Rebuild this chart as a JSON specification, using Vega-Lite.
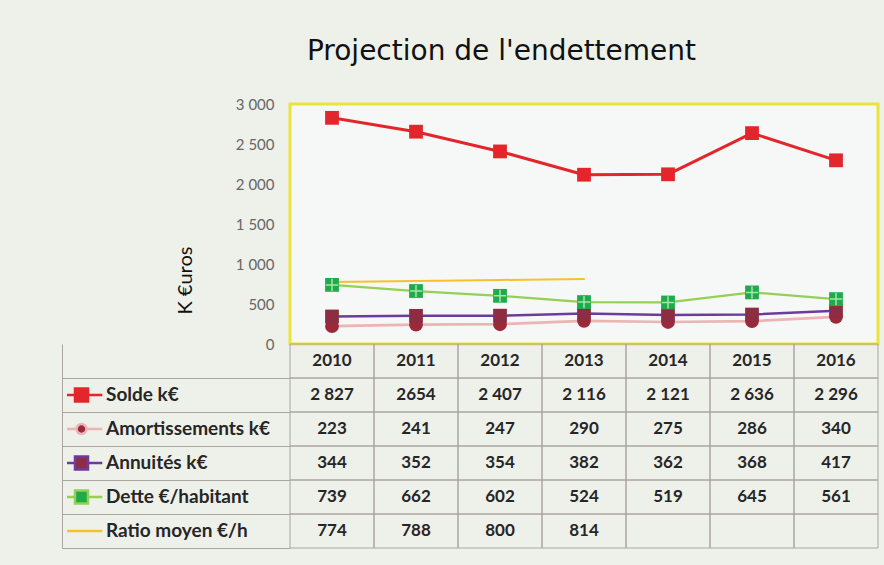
{
  "$schema": "https://vega.github.io/schema/vega-lite/v6.json",
  "background": "#eef0ea",
  "padding": {"left": 61, "top": 37, "right": 5, "bottom": 20},
  "title": {"text": "Projection de l'endettement", "font": "DejaVu Sans", "fontSize": 28, "fontWeight": "normal", "color": "#111111", "anchor": "middle", "dx": 31, "offset": 30},
  "config": {"font": "Lato", "view": {"stroke": null}},
  "spacing": 0,
  "bounds": "flush",
  "resolve": {"scale": {"fill": "independent", "stroke": "independent", "shape": "independent", "strokeWidth": "independent"}, "legend": {"fill": "independent", "stroke": "independent", "shape": "independent"}},
  "datasets": {
    "rows": [
      {"year": 2010, "series": "Solde k€", "value": 2827, "txt": "2 827"},
      {"year": 2011, "series": "Solde k€", "value": 2654, "txt": "2654"},
      {"year": 2012, "series": "Solde k€", "value": 2407, "txt": "2 407"},
      {"year": 2013, "series": "Solde k€", "value": 2116, "txt": "2 116"},
      {"year": 2014, "series": "Solde k€", "value": 2121, "txt": "2 121"},
      {"year": 2015, "series": "Solde k€", "value": 2636, "txt": "2 636"},
      {"year": 2016, "series": "Solde k€", "value": 2296, "txt": "2 296"},
      {"year": 2010, "series": "Amortissements k€", "value": 223, "txt": "223"},
      {"year": 2011, "series": "Amortissements k€", "value": 241, "txt": "241"},
      {"year": 2012, "series": "Amortissements k€", "value": 247, "txt": "247"},
      {"year": 2013, "series": "Amortissements k€", "value": 290, "txt": "290"},
      {"year": 2014, "series": "Amortissements k€", "value": 275, "txt": "275"},
      {"year": 2015, "series": "Amortissements k€", "value": 286, "txt": "286"},
      {"year": 2016, "series": "Amortissements k€", "value": 340, "txt": "340"},
      {"year": 2010, "series": "Annuités k€", "value": 344, "txt": "344"},
      {"year": 2011, "series": "Annuités k€", "value": 352, "txt": "352"},
      {"year": 2012, "series": "Annuités k€", "value": 354, "txt": "354"},
      {"year": 2013, "series": "Annuités k€", "value": 382, "txt": "382"},
      {"year": 2014, "series": "Annuités k€", "value": 362, "txt": "362"},
      {"year": 2015, "series": "Annuités k€", "value": 368, "txt": "368"},
      {"year": 2016, "series": "Annuités k€", "value": 417, "txt": "417"},
      {"year": 2010, "series": "Dette €/habitant", "value": 739, "txt": "739"},
      {"year": 2011, "series": "Dette €/habitant", "value": 662, "txt": "662"},
      {"year": 2012, "series": "Dette €/habitant", "value": 602, "txt": "602"},
      {"year": 2013, "series": "Dette €/habitant", "value": 524, "txt": "524"},
      {"year": 2014, "series": "Dette €/habitant", "value": 519, "txt": "519"},
      {"year": 2015, "series": "Dette €/habitant", "value": 645, "txt": "645"},
      {"year": 2016, "series": "Dette €/habitant", "value": 561, "txt": "561"},
      {"year": 2010, "series": "Ratio moyen €/h", "value": 774, "txt": "774"},
      {"year": 2011, "series": "Ratio moyen €/h", "value": 788, "txt": "788"},
      {"year": 2012, "series": "Ratio moyen €/h", "value": 800, "txt": "800"},
      {"year": 2013, "series": "Ratio moyen €/h", "value": 814, "txt": "814"},
      {"year": 2014, "series": "Ratio moyen €/h", "value": null, "txt": ""},
      {"year": 2015, "series": "Ratio moyen €/h", "value": null, "txt": ""},
      {"year": 2016, "series": "Ratio moyen €/h", "value": null, "txt": ""}
    ]
  },
  "vconcat": [
    {
      "width": 588,
      "height": 240,
      "view": {"stroke": "#e9e33b", "strokeWidth": 3, "fill": "#f6f8f7"},
      "data": {"name": "rows"},
      "encoding": {
        "x": {"field": "year", "type": "ordinal", "scale": {"type": "band", "paddingInner": 0, "paddingOuter": 0}, "axis": null},
        "y": {
          "field": "value", "type": "quantitative",
          "scale": {"domain": [0, 3000], "nice": false},
          "axis": {
            "values": [0, 500, 1000, 1500, 2000, 2500, 3000],
            "labelExpr": "replace(format(datum.value, ','), ',', ' ')",
            "ticks": false, "domain": false, "grid": false,
            "labelPadding": 16, "labelFont": "Lato", "labelFontSize": 15, "labelColor": "#666666",
            "title": "K €uros", "titleFont": "Lato", "titleFontSize": 20, "titleFontWeight": "normal", "titleColor": "#111111",
            "titlePadding": 40, "titleY": 176, "titleAlign": "center", "titleAngle": -90
          }
        }
      },
      "layer": [
        {
          "mark": {"type": "line", "strokeCap": "round", "strokeJoin": "round"},
          "encoding": {
            "stroke": {"field": "series", "type": "nominal", "legend": null,
              "scale": {"domain": ["Solde k€", "Amortissements k€", "Annuités k€", "Dette €/habitant", "Ratio moyen €/h"],
                        "range": ["#e3262b", "#ebb5b5", "#6b3c9e", "#93d053", "#f6c12c"]}},
            "strokeWidth": {"field": "series", "type": "nominal", "legend": null,
              "scale": {"domain": ["Solde k€", "Amortissements k€", "Annuités k€", "Dette €/habitant", "Ratio moyen €/h"],
                        "range": [3, 2, 3, 2.5, 3]}}
          }
        },
        {
          "transform": [{"filter": "datum.series !== 'Ratio moyen €/h'"}],
          "mark": {"type": "point", "filled": true, "opacity": 1, "strokeWidth": 0, "size": 190},
          "encoding": {
            "fill": {"field": "series", "type": "nominal", "legend": null,
              "scale": {"domain": ["Solde k€", "Amortissements k€", "Annuités k€", "Dette €/habitant"],
                        "range": ["#e3262b", "#9a2a3a", "#8c2d44", "#1faa4c"]}},
            "shape": {"field": "series", "type": "nominal", "legend": null,
              "scale": {"domain": ["Solde k€", "Amortissements k€", "Annuités k€", "Dette €/habitant"],
                        "range": ["square", "circle", "square", "square"]}}
          }
        },
        {
          "transform": [{"filter": "datum.series === 'Dette €/habitant'"}],
          "mark": {"type": "point", "shape": "M-1,0H1M0,-1V1", "filled": false, "stroke": "#a6e6a6", "strokeWidth": 1.5, "size": 150, "opacity": 1}
        }
      ]
    },
    {
      "width": 588,
      "height": 204,
      "data": {"name": "rows"},
      "encoding": {
        "x": {"field": "year", "type": "ordinal", "scale": {"type": "band", "paddingInner": 0, "paddingOuter": 0}, "axis": null}
      },
      "layer": [
        {
          "mark": {"type": "rect", "fill": "transparent", "stroke": "#aaa69e", "strokeWidth": 1},
          "encoding": {
            "y": {"field": "series", "type": "nominal", "title": null,
              "scale": {"domain": ["hdr", "Solde k€", "Amortissements k€", "Annuités k€", "Dette €/habitant", "Ratio moyen €/h"], "paddingInner": 0, "paddingOuter": 0},
              "axis": {"orient": "left", "offset": 228, "domain": true, "domainColor": "#aaa69e", "domainWidth": 1,
                       "ticks": true, "tickSize": -228, "tickColor": "#aaa69e", "tickWidth": 1, "bandPosition": 1,
                       "labels": false, "grid": false, "title": null,
                       "values": ["hdr", "Solde k€", "Amortissements k€", "Annuités k€", "Dette €/habitant", "Ratio moyen €/h"]}}
          }
        },
        {
          "transform": [{"filter": "datum.series === 'Solde k€'"}],
          "mark": {"type": "rect", "fill": "transparent", "stroke": "#aaa69e", "strokeWidth": 1},
          "encoding": {"y": {"datum": "hdr", "type": "nominal"}}
        },
        {
          "mark": {"type": "text", "font": "Lato", "fontSize": 17, "fontWeight": "bold", "color": "#262626", "align": "center", "baseline": "middle"},
          "encoding": {
            "y": {"field": "series", "type": "nominal"},
            "text": {"field": "txt"}
          }
        },
        {
          "transform": [{"filter": "datum.series === 'Solde k€'"}],
          "mark": {"type": "text", "font": "Lato", "fontSize": 17, "fontWeight": "bold", "color": "#262626", "align": "center", "baseline": "middle"},
          "encoding": {
            "y": {"datum": "hdr", "type": "nominal"},
            "text": {"field": "year", "type": "ordinal"}
          }
        },
        {
          "transform": [{"filter": "false"}],
          "mark": {"type": "point", "filled": true, "opacity": 1},
          "encoding": {
            "y": {"field": "series", "type": "nominal"},
            "fill": {"field": "series", "type": "nominal",
              "scale": {"domain": ["Solde k€", "Amortissements k€", "Annuités k€", "Dette €/habitant", "Ratio moyen €/h"],
                        "range": ["#e3262b", "#9a2a3a", "#8c2d44", "#1faa4c", "#f6c12c"]},
              "legend": {"orient": "none", "legendX": -223, "legendY": 34, "title": null, "clipHeight": 34, "rowPadding": 0, "padding": 0,
                         "symbolSize": 676, "symbolStrokeWidth": 2.5, "symbolOpacity": 1,
                         "labelFont": "Lato", "labelFontSize": 19, "labelFontWeight": "bold", "labelColor": "#262626", "labelOffset": 10, "labelLimit": 300}},
            "stroke": {"field": "series", "type": "nominal",
              "scale": {"domain": ["Solde k€", "Amortissements k€", "Annuités k€", "Dette €/habitant", "Ratio moyen €/h"],
                        "range": ["#e3262b", "#ebb5b5", "#6b3c9e", "#93d053", "#f6c12c"]}},
            "shape": {"field": "series", "type": "nominal",
              "scale": {"domain": ["Solde k€", "Amortissements k€", "Annuités k€", "Dette €/habitant", "Ratio moyen €/h"],
                        "range": ["M-1.6,0H-0.5M0.5,0H1.6M-0.5,-0.5H0.5V0.5H-0.5Z",
                                  "M-1.6,0H-0.45M0.45,0H1.6M-0.38,0A0.38,0.38,0,1,0,0.38,0A0.38,0.38,0,1,0,-0.38,0Z",
                                  "M-1.6,0H-0.5M0.5,0H1.6M-0.5,-0.5H0.5V0.5H-0.5Z",
                                  "M-1.6,0H-0.5M0.5,0H1.6M-0.5,-0.5H0.5V0.5H-0.5Z",
                                  "M-1.6,0H1.6"]}}
          }
        }
      ]
    }
  ]
}
